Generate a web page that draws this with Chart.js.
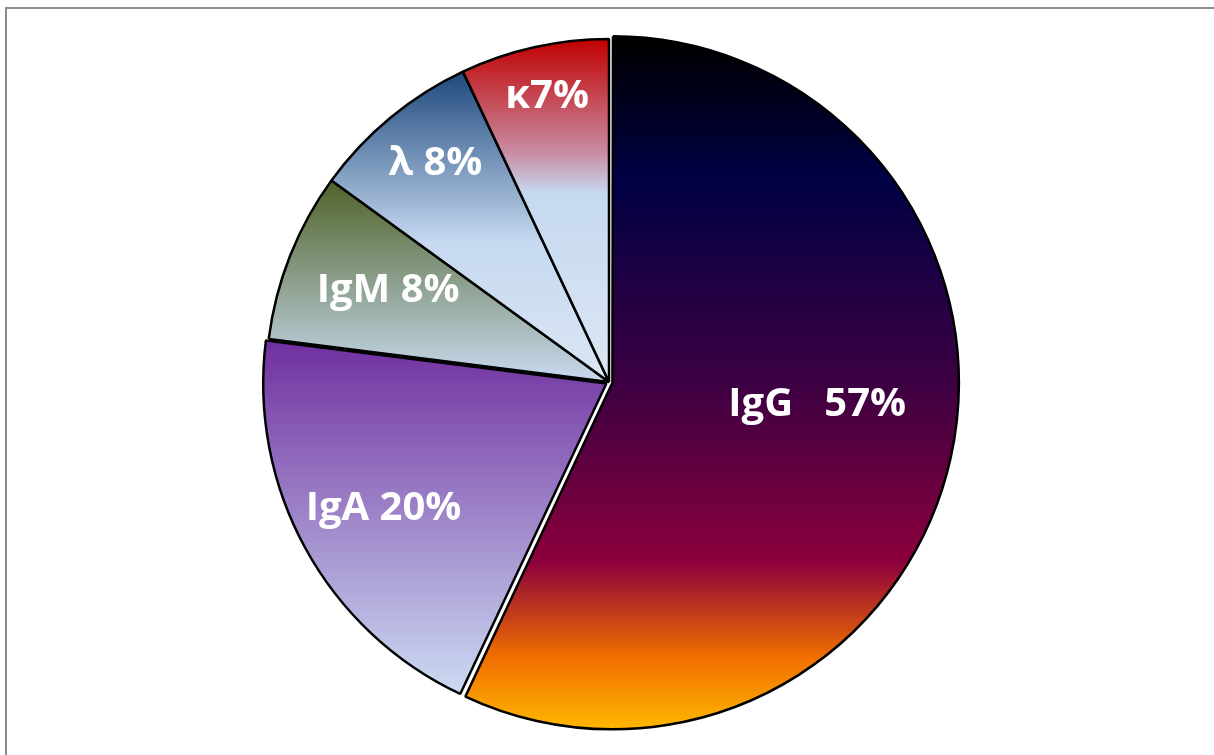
<!DOCTYPE html>
<html>
<head>
<meta charset="utf-8">
<title>Immunoglobulin share</title>
<script src="https://cdn.jsdelivr.net/npm/chart.js@4.4.1/dist/chart.umd.min.js"></script>
<style>
  html, body { margin: 0; padding: 0; background: #fff; overflow: hidden; }
  #wrap { position: relative; width: 1214px; height: 755px; }
  .frame {
    position: absolute; left: 5px; top: 7px; width: 1400px; height: 1000px;
    border-left: 2px solid #8c8c8c; border-top: 2px solid #8c8c8c;
  }
  canvas { position: absolute; left: 0; top: 0; }
</style>
</head>
<body>
<div id="wrap">
  <div class="frame"></div>
  <canvas id="pie" width="1214" height="755"></canvas>
</div>
<script>
const labels = ['IgG', 'IgA', 'IgM', 'λ', 'κ'];
const values = [57, 20, 8, 8, 7];
const labelGaps = ['   ', ' ', ' ', ' ', ''];

// exploded slices (Chart.js moves an arc by offset / 4)
const sliceOffsets = [14, 12, 0, 0, 0];

// vertical gradient stops, laid over each slice's own bounding box
const fills = [
  [[0, '#000000'], [0.2, '#000044'], [0.5, '#3c0042'], [0.76, '#8c003c'], [0.9, '#f07000'], [1, '#ffb400']],
  [[0, '#7030a0'], [1, '#cddcf3']],
  [[0, '#4f6228'], [1, '#c9dbf1']],
  [[0, '#1f497d'], [0.55, '#c6d9f1'], [1, '#dce6f3']],
  [[0, '#c00000'], [0.33, '#c98ba0'], [0.45, '#c6d9f1'], [1, '#dce6f3']],
];

// where each label sits: fraction of the radius, and a small angle nudge (deg)
const labelRadius = [0.61, 0.75, 0.70, 0.82, 0.86];
const labelNudge = [-7, 0, 1.5, 1.5, 0.5];

const RADIUS = 343;

function sliceGradient(ctx) {
  const i = ctx.dataIndex;
  const stops = fills[i] || fills[0];
  const chart = ctx.chart;
  const area = chart.chartArea;
  if (!area || i === undefined) return stops[0][1];

  const cy = (area.top + area.bottom) / 2;
  const total = values.reduce((a, b) => a + b, 0);
  const before = values.slice(0, i).reduce((a, b) => a + b, 0);
  const a0 = -Math.PI / 2 + before / total * 2 * Math.PI;
  const a1 = a0 + values[i] / total * 2 * Math.PI;
  const shift = sliceOffsets[i] / 4 * Math.sin((a0 + a1) / 2);

  const ys = [cy, cy + RADIUS * Math.sin(a0), cy + RADIUS * Math.sin(a1)];
  [Math.PI / 2, 3 * Math.PI / 2].forEach(a => {
    if (a > a0 && a < a1) ys.push(cy + RADIUS * Math.sin(a));
  });
  const top = Math.min(...ys) + shift;
  const bottom = Math.max(...ys) + shift;

  const g = chart.ctx.createLinearGradient(0, top, 0, bottom);
  stops.forEach(([p, c]) => g.addColorStop(p, c));
  return g;
}

const sliceLabels = {
  id: 'sliceLabels',
  afterDatasetsDraw(chart) {
    const c = chart.ctx;
    const arcs = chart.getDatasetMeta(0).data;
    c.save();
    c.font = 'bold 40px "Open Sans"';
    c.fillStyle = '#ffffff';
    c.textAlign = 'center';
    c.textBaseline = 'alphabetic';
    arcs.forEach((arc, i) => {
      const p = arc.getProps(['x', 'y', 'startAngle', 'endAngle', 'outerRadius'], true);
      const mid = (p.startAngle + p.endAngle) / 2 + labelNudge[i] * Math.PI / 180;
      const r = p.outerRadius * labelRadius[i];
      const x = p.x + r * Math.cos(mid);
      const y = p.y + r * Math.sin(mid);
      c.fillText(labels[i] + labelGaps[i] + values[i] + '%', x, y + 14);
    });
    c.restore();
  }
};

new Chart(document.getElementById('pie'), {
  type: 'pie',
  data: {
    labels,
    datasets: [{
      data: values,
      backgroundColor: sliceGradient,
      borderColor: '#000000',
      borderWidth: 2.5,
      offset: sliceOffsets,
    }],
  },
  options: {
    responsive: false,
    animation: false,
    radius: RADIUS,
    layout: { padding: { left: 4, top: 9, right: 0, bottom: 0 } },
    plugins: {
      legend: { display: false },
      tooltip: { enabled: false },
    },
  },
  plugins: [sliceLabels],
});
</script>
</body>
</html>
